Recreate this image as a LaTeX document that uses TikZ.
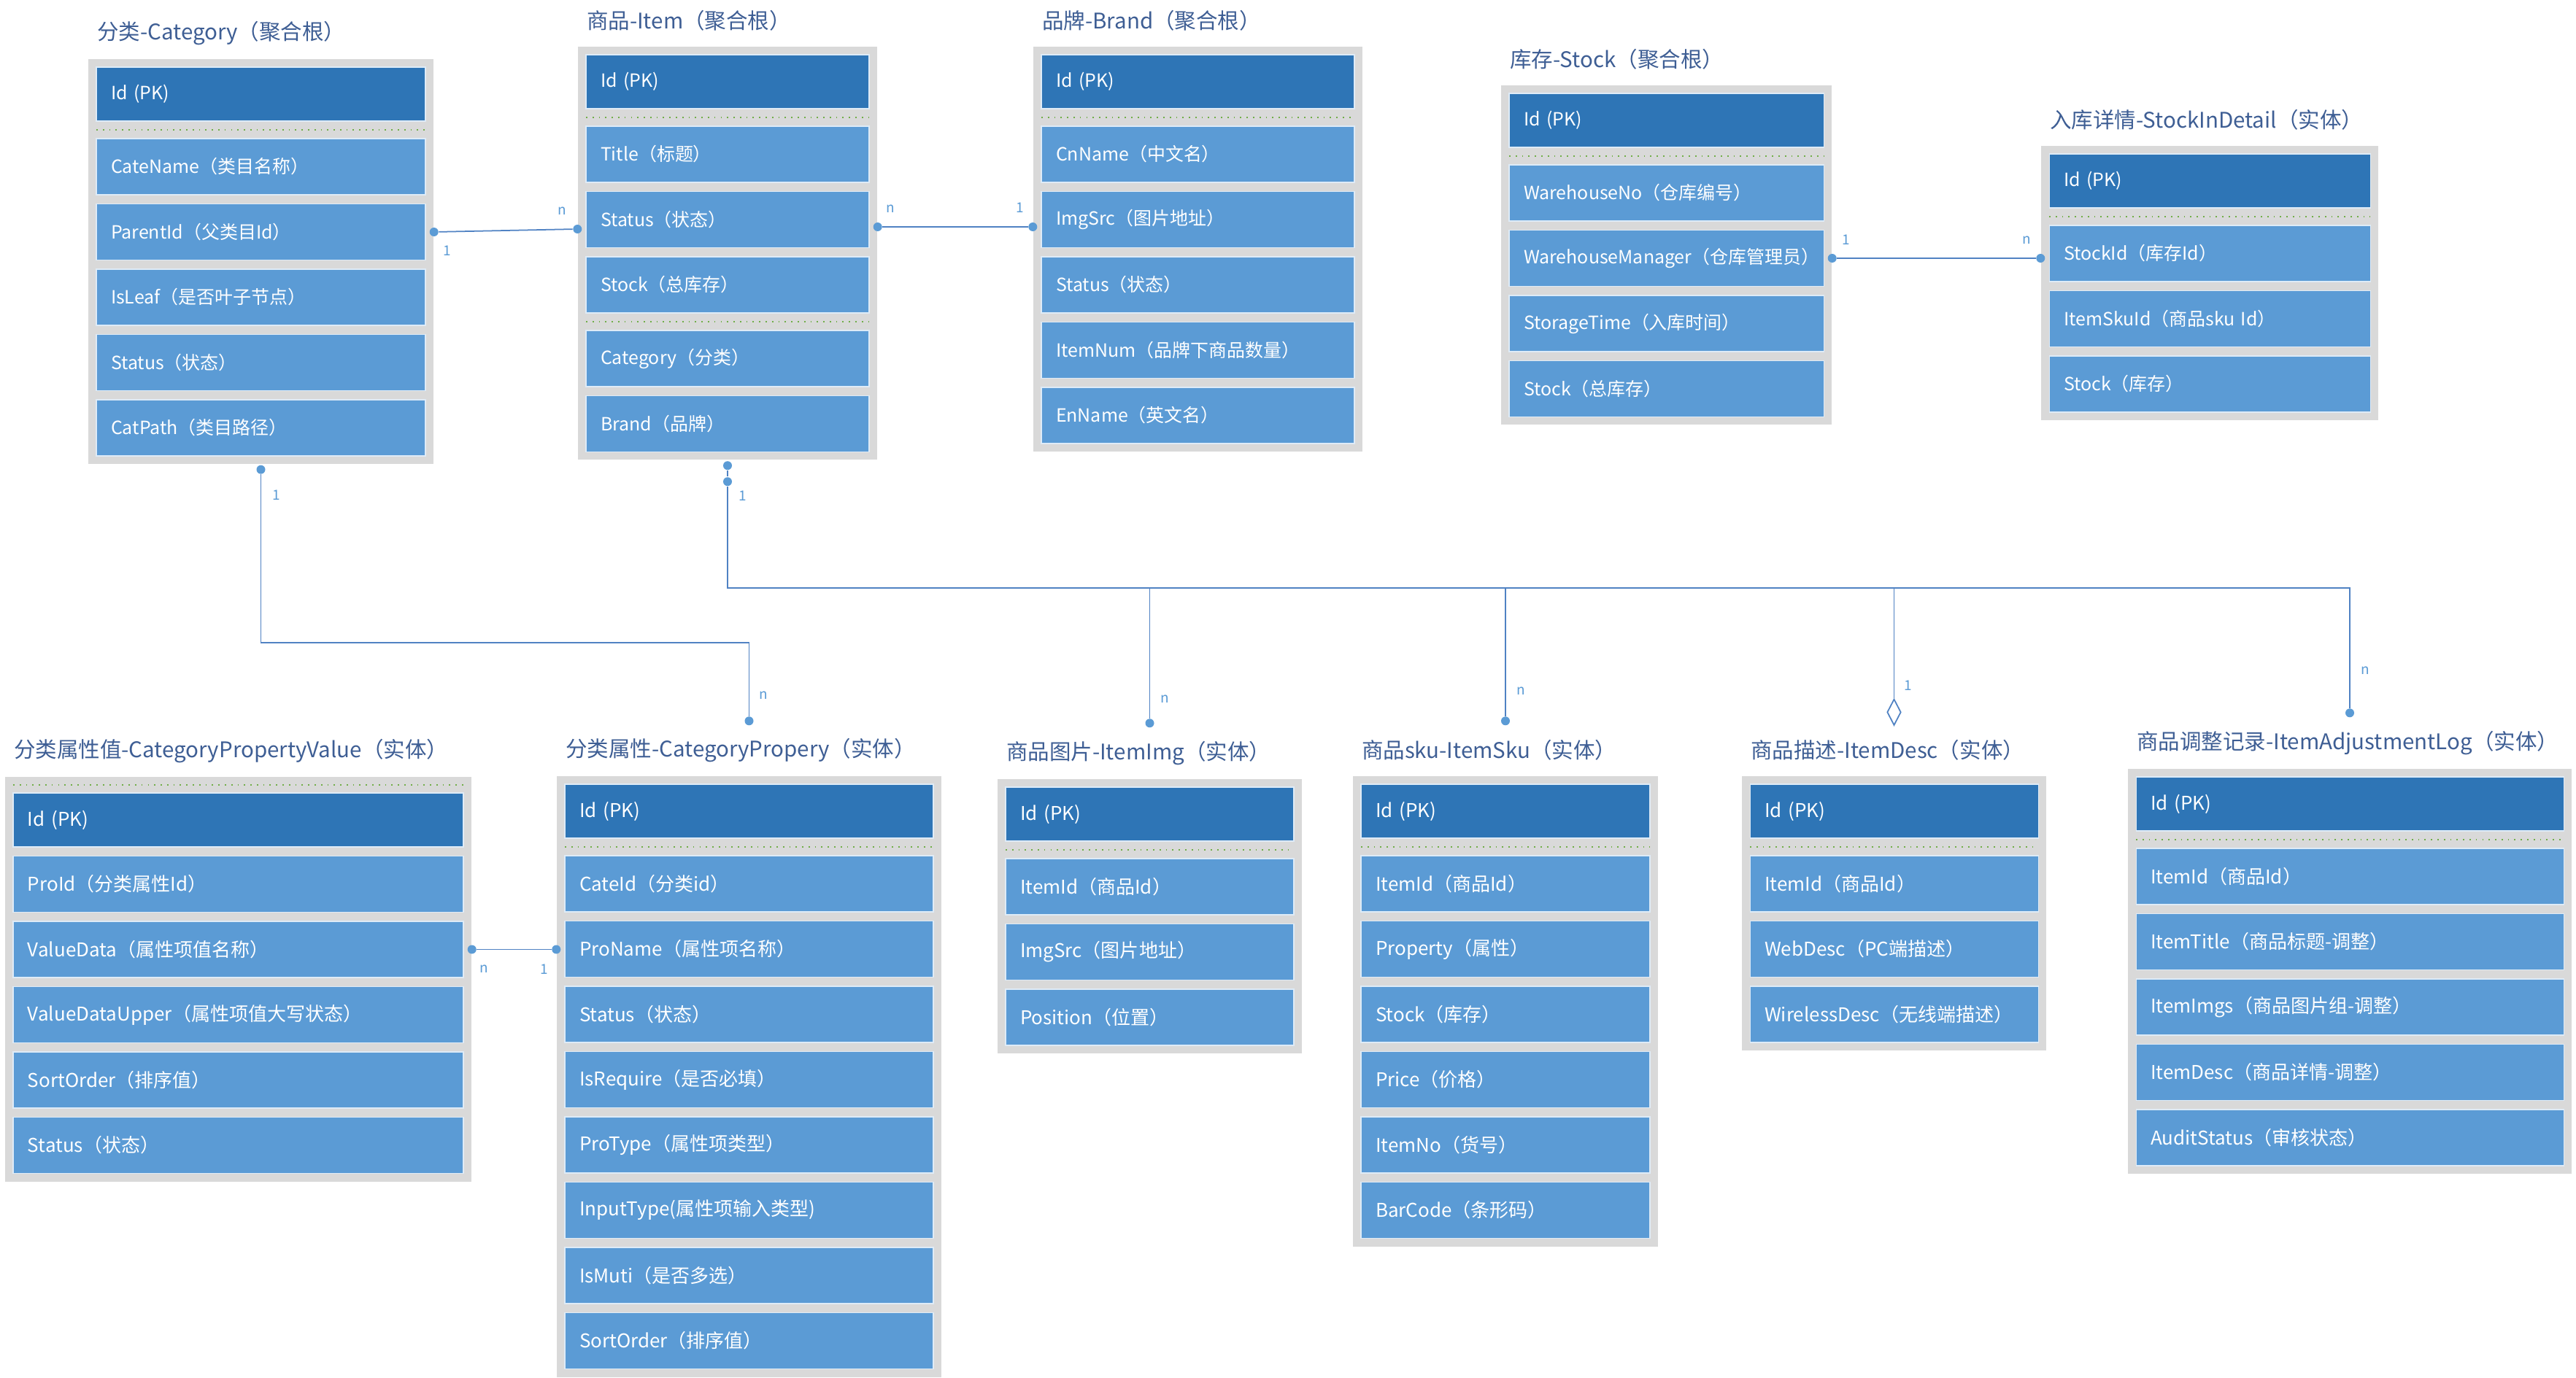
\documentclass[tikz,border=0pt]{standalone}
\usepackage{fontspec}
\setmainfont{Noto Sans CJK SC}
\usepackage{tikz}
\usetikzlibrary{positioning, fit, backgrounds, shapes.geometric}
\definecolor{keyblue}{RGB}{46,117,182}
\definecolor{fieldblue}{RGB}{91,155,213}
\definecolor{fieldline}{RGB}{222,235,247}
\definecolor{boxgray}{RGB}{217,217,217}
\definecolor{sepgreen}{RGB}{112,173,71}
\definecolor{titleblue}{RGB}{62,94,148}
\definecolor{linkblue}{RGB}{80,130,195}
\tikzstyle{attrbox} = [rectangle, minimum height=0.77cm, inner xsep=0.2cm, inner ysep=0pt, outer sep=0pt, align=left, fill=fieldblue, draw=fieldline, line width=0.3pt, text=white, font=\fontsize{7.1}{8}\selectfont]
\tikzstyle{keybox} = [attrbox, minimum height=0.74cm, fill=keyblue]
\tikzstyle{tablebox} = [rectangle, fill=boxgray, inner sep=0.11cm]
\tikzstyle{tabletitle} = [anchor=west, inner sep=0pt, text=titleblue, font=\fontsize{8.4}{10}\selectfont]
\tikzstyle{sepline} = [sepgreen, dotted, line width=0.5pt]
\tikzstyle{link} = [linkblue, line width=0.5pt]
\tikzstyle{enddot} = [circle, fill=fieldblue, inner sep=0pt, minimum size=0.12cm]
\tikzstyle{aggdiamond} = [diamond, draw=linkblue, fill=white, line width=0.5pt, inner sep=0pt, minimum width=0.19cm, minimum height=0.36cm]
\tikzstyle{cardlabel} = [inner sep=0pt, text=fieldblue, font=\fontsize{5.4}{6}\selectfont]

\begin{document}
\begin{tikzpicture}[node distance=0.125cm]
	\useasboundingbox (0,0) rectangle (35.30,-18.89);
	
	% 分类 Category
	\begin{scope}[attrbox/.append style={text width=4.11cm}]
		\node (cat-id) [keybox, anchor=north west] at (1.32,-0.92) {Id (PK)};
		\node (cat-name) [attrbox, below=0.24cm of cat-id] {CateName（类目名称）};
		\node (cat-parent) [attrbox, below=of cat-name] {ParentId（父类目Id）};
		\node (cat-leaf) [attrbox, below=of cat-parent] {IsLeaf（是否叶子节点）};
		\node (cat-status) [attrbox, below=of cat-leaf] {Status（状态）};
		\node (cat-path) [attrbox, below=of cat-status] {CatPath（类目路径）};
	\end{scope}
	
	% 商品 Item
	\begin{scope}[attrbox/.append style={text width=3.48cm}]
		\node (item-id) [keybox, anchor=north west] at (8.03,-0.75) {Id (PK)};
		\node (item-title) [attrbox, below=0.24cm of item-id] {Title（标题）};
		\node (item-status) [attrbox, below=of item-title] {Status（状态）};
		\node (item-stock) [attrbox, below=of item-status] {Stock（总库存）};
		\node (item-cat) [attrbox, below=0.24cm of item-stock] {Category（分类）};
		\node (item-brand) [attrbox, below=of item-cat] {Brand（品牌）};
	\end{scope}
	
	% 品牌 Brand
	\begin{scope}[attrbox/.append style={text width=3.89cm}]
		\node (brand-id) [keybox, anchor=north west] at (14.27,-0.75) {Id (PK)};
		\node (brand-cn) [attrbox, below=0.24cm of brand-id] {CnName（中文名）};
		\node (brand-img) [attrbox, below=of brand-cn] {ImgSrc（图片地址）};
		\node (brand-status) [attrbox, below=of brand-img] {Status（状态）};
		\node (brand-num) [attrbox, below=of brand-status] {ItemNum（品牌下商品数量）};
		\node (brand-en) [attrbox, below=of brand-num] {EnName（英文名）};
	\end{scope}
	
	% 库存 Stock
	\begin{scope}[attrbox/.append style={text width=3.91cm}]
		\node (stock-id) [keybox, anchor=north west] at (20.68,-1.28) {Id (PK)};
		\node (stock-no) [attrbox, below=0.24cm of stock-id] {WarehouseNo（仓库编号）};
		\node (stock-mgr) [attrbox, below=of stock-no] {WarehouseManager（仓库管理员）};
		\node (stock-time) [attrbox, below=of stock-mgr] {StorageTime（入库时间）};
		\node (stock-total) [attrbox, below=of stock-time] {Stock（总库存）};
	\end{scope}
	
	% 入库详情 StockInDetail
	\begin{scope}[attrbox/.append style={text width=4.00cm}]
		\node (sid-id) [keybox, anchor=north west] at (28.08,-2.11) {Id (PK)};
		\node (sid-stock) [attrbox, below=0.24cm of sid-id] {StockId（库存Id）};
		\node (sid-sku) [attrbox, below=of sid-stock] {ItemSkuId（商品sku Id）};
		\node (sid-num) [attrbox, below=of sid-sku] {Stock（库存）};
	\end{scope}
	
	% 分类属性值 CategoryPropertyValue
	\begin{scope}[attrbox/.append style={text width=5.77cm, font=\fontsize{7.4}{9}\selectfont}]
		\node (cpv-id) [keybox, anchor=north west] at (0.18,-10.87) {Id (PK)};
		\node (cpv-pro) [attrbox, below=of cpv-id] {ProId（分类属性Id）};
		\node (cpv-data) [attrbox, below=of cpv-pro] {ValueData（属性项值名称）};
		\node (cpv-upper) [attrbox, below=of cpv-data] {ValueDataUpper（属性项值大写状态）};
		\node (cpv-sort) [attrbox, below=of cpv-upper] {SortOrder（排序值）};
		\node (cpv-status) [attrbox, below=of cpv-sort] {Status（状态）};
	\end{scope}
	\coordinate (cpv-top) at ([yshift=0.11cm]cpv-id.north);
	
	% 分类属性 CategoryPropery
	\begin{scope}[attrbox/.append style={text width=4.65cm, font=\fontsize{7.4}{9}\selectfont}]
		\node (cp-id) [keybox, anchor=north west] at (7.74,-10.75) {Id (PK)};
		\node (cp-cate) [attrbox, below=0.24cm of cp-id] {CateId（分类id）};
		\node (cp-name) [attrbox, below=of cp-cate] {ProName（属性项名称）};
		\node (cp-status) [attrbox, below=of cp-name] {Status（状态）};
		\node (cp-require) [attrbox, below=of cp-status] {IsRequire（是否必填）};
		\node (cp-type) [attrbox, below=of cp-require] {ProType（属性项类型）};
		\node (cp-input) [attrbox, below=of cp-type] {InputType(属性项输入类型)};
		\node (cp-muti) [attrbox, below=of cp-input] {IsMuti（是否多选）};
		\node (cp-sort) [attrbox, below=of cp-muti] {SortOrder（排序值）};
	\end{scope}
	
	% 商品图片 ItemImg
	\begin{scope}[attrbox/.append style={text width=3.55cm, font=\fontsize{7.4}{9}\selectfont}]
		\node (img-id) [keybox, anchor=north west] at (13.78,-10.79) {Id (PK)};
		\node (img-item) [attrbox, below=0.24cm of img-id] {ItemId（商品Id）};
		\node (img-src) [attrbox, below=of img-item] {ImgSrc（图片地址）};
		\node (img-pos) [attrbox, below=of img-src] {Position（位置）};
	\end{scope}
	
	% 商品sku ItemSku
	\begin{scope}[attrbox/.append style={text width=3.56cm, font=\fontsize{7.4}{9}\selectfont}]
		\node (sku-id) [keybox, anchor=north west] at (18.65,-10.75) {Id (PK)};
		\node (sku-item) [attrbox, below=0.24cm of sku-id] {ItemId（商品Id）};
		\node (sku-prop) [attrbox, below=of sku-item] {Property（属性）};
		\node (sku-stock) [attrbox, below=of sku-prop] {Stock（库存）};
		\node (sku-price) [attrbox, below=of sku-stock] {Price（价格）};
		\node (sku-no) [attrbox, below=of sku-price] {ItemNo（货号）};
		\node (sku-bar) [attrbox, below=of sku-no] {BarCode（条形码）};
	\end{scope}
	
	% 商品描述 ItemDesc
	\begin{scope}[attrbox/.append style={text width=3.55cm, font=\fontsize{7.4}{9}\selectfont}]
		\node (desc-id) [keybox, anchor=north west] at (23.98,-10.75) {Id (PK)};
		\node (desc-item) [attrbox, below=0.24cm of desc-id] {ItemId（商品Id）};
		\node (desc-web) [attrbox, below=of desc-item] {WebDesc（PC端描述）};
		\node (desc-wireless) [attrbox, below=of desc-web] {WirelessDesc（无线端描述）};
	\end{scope}
	
	% 商品调整记录 ItemAdjustmentLog
	\begin{scope}[attrbox/.append style={text width=5.46cm, font=\fontsize{7.4}{9}\selectfont}]
		\node (log-id) [keybox, anchor=north west] at (29.27,-10.65) {Id (PK)};
		\node (log-item) [attrbox, below=0.24cm of log-id] {ItemId（商品Id）};
		\node (log-title) [attrbox, below=of log-item] {ItemTitle（商品标题-调整）};
		\node (log-imgs) [attrbox, below=of log-title] {ItemImgs（商品图片组-调整）};
		\node (log-desc) [attrbox, below=of log-imgs] {ItemDesc（商品详情-调整）};
		\node (log-audit) [attrbox, below=of log-desc] {AuditStatus（审核状态）};
	\end{scope}
	
	% gray table frames
	\begin{scope}[on background layer]
		\node (cat) [tablebox, fit=(cat-id)(cat-path)] {};
		\node (item) [tablebox, fit=(item-id)(item-brand)] {};
		\node (brand) [tablebox, fit=(brand-id)(brand-en)] {};
		\node (stock) [tablebox, fit=(stock-id)(stock-total)] {};
		\node (sid) [tablebox, fit=(sid-id)(sid-num)] {};
		\node (cpv) [tablebox, fit=(cpv-top)(cpv-status)] {};
		\node (cp) [tablebox, fit=(cp-id)(cp-sort)] {};
		\node (img) [tablebox, fit=(img-id)(img-pos)] {};
		\node (sku) [tablebox, fit=(sku-id)(sku-bar)] {};
		\node (desc) [tablebox, fit=(desc-id)(desc-wireless)] {};
		\node (log) [tablebox, fit=(log-id)(log-audit)] {};
	\end{scope}
	
	% titles
	\node (cat-head) [tabletitle] at ([shift={(0.12,0.35)}]cat.north west) {分类-Category（聚合根）};
	\node (item-head) [tabletitle] at ([shift={(0.12,0.35)}]item.north west) {商品-Item（聚合根）};
	\node (brand-head) [tabletitle] at ([shift={(0.12,0.35)}]brand.north west) {品牌-Brand（聚合根）};
	\node (stock-head) [tabletitle] at ([shift={(0.12,0.35)}]stock.north west) {库存-Stock（聚合根）};
	\node (sid-head) [tabletitle] at ([shift={(0.12,0.35)}]sid.north west) {入库详情-StockInDetail（实体）};
	\node (cpv-head) [tabletitle] at ([shift={(0.12,0.35)}]cpv.north west) {分类属性值-CategoryPropertyValue（实体）};
	\node (cp-head) [tabletitle] at ([shift={(0.12,0.35)}]cp.north west) {分类属性-CategoryPropery（实体）};
	\node (img-head) [tabletitle] at ([shift={(0.12,0.35)}]img.north west) {商品图片-ItemImg（实体）};
	\node (sku-head) [tabletitle] at ([shift={(0.12,0.35)}]sku.north west) {商品sku-ItemSku（实体）};
	\node (desc-head) [tabletitle] at ([shift={(0.12,0.35)}]desc.north west) {商品描述-ItemDesc（实体）};
	\node (log-head) [tabletitle] at ([shift={(0.12,0.35)}]log.north west) {商品调整记录-ItemAdjustmentLog（实体）};
	
	% separators
	\draw [sepline] ([yshift=-0.12cm]cat-id.south west) -- ([yshift=-0.12cm]cat-id.south east);
	\draw [sepline] ([yshift=-0.12cm]item-id.south west) -- ([yshift=-0.12cm]item-id.south east);
	\draw [sepline] ([yshift=-0.12cm]item-stock.south west) -- ([yshift=-0.12cm]item-stock.south east);
	\draw [sepline] ([yshift=-0.12cm]brand-id.south west) -- ([yshift=-0.12cm]brand-id.south east);
	\draw [sepline] ([yshift=-0.12cm]stock-id.south west) -- ([yshift=-0.12cm]stock-id.south east);
	\draw [sepline] ([yshift=-0.12cm]sid-id.south west) -- ([yshift=-0.12cm]sid-id.south east);
	\draw [sepline] (cpv-top -| cpv-id.west) -- (cpv-top -| cpv-id.east);
	\draw [sepline] ([yshift=-0.12cm]cp-id.south west) -- ([yshift=-0.12cm]cp-id.south east);
	\draw [sepline] ([yshift=-0.12cm]img-id.south west) -- ([yshift=-0.12cm]img-id.south east);
	\draw [sepline] ([yshift=-0.12cm]sku-id.south west) -- ([yshift=-0.12cm]sku-id.south east);
	\draw [sepline] ([yshift=-0.12cm]desc-id.south west) -- ([yshift=-0.12cm]desc-id.south east);
	\draw [sepline] ([yshift=-0.12cm]log-id.south west) -- ([yshift=-0.12cm]log-id.south east);
	
	% Category - Item
	\node (d-cat-item) [enddot] at (cat.east |- cat-parent) {};
	\node (d-item-cat) [enddot] at ([yshift=0.04cm]item.west |- cat-parent) {};
	\draw [link] (d-cat-item) -- (d-item-cat);
	\node (c-cat-item) [cardlabel] at ([shift={(0.18,-0.26)}]d-cat-item) {1};
	\node (c-item-cat) [cardlabel] at ([shift={(-0.21,0.25)}]d-item-cat) {n};
	
	% Item - Brand
	\node (d-item-brand) [enddot] at ([yshift=-0.1cm]item.east |- item-status) {};
	\node (d-brand-item) [enddot] at ([yshift=-0.1cm]brand.west |- item-status) {};
	\draw [link] (d-item-brand) -- (d-brand-item);
	\node (c-item-brand) [cardlabel] at ([shift={(0.18,0.25)}]d-item-brand) {n};
	\node (c-brand-item) [cardlabel] at ([shift={(-0.18,0.26)}]d-brand-item) {1};
	
	% Stock - StockInDetail
	\node (d-stock-sid) [enddot] at (stock.east |- stock-mgr) {};
	\node (d-sid-stock) [enddot] at (sid.west |- stock-mgr) {};
	\draw [link] (d-stock-sid) -- (d-sid-stock);
	\node (c-stock-sid) [cardlabel] at ([shift={(0.19,0.25)}]d-stock-sid) {1};
	\node (c-sid-stock) [cardlabel] at ([shift={(-0.19,0.25)}]d-sid-stock) {n};
	
	% CategoryPropertyValue - CategoryPropery
	\node (d-cpv-cp) [enddot] at (cpv.east |- cpv-data) {};
	\node (d-cp-cpv) [enddot] at (cp.west |- cpv-data) {};
	\draw [link] (d-cpv-cp) -- (d-cp-cpv);
	\node (c-cpv-cp) [cardlabel] at ([shift={(0.17,-0.27)}]d-cpv-cp) {n};
	\node (c-cp-cpv) [cardlabel] at ([shift={(-0.17,-0.27)}]d-cp-cpv) {1};
	
	% Category - CategoryPropery
	\coordinate (cat-bend) at (0,-8.81);
	\node (d-cat-cp) [enddot] at ([yshift=-0.07cm]cat.south) {};
	\node (d-cp-cat) [enddot] at ([yshift=0.75cm]cp.north) {};
	\draw [link] (d-cat-cp) -- (d-cat-cp |- cat-bend) -| (d-cp-cat);
	\node (c-cat-cp) [cardlabel] at ([shift={(0.21,-0.35)}]d-cat-cp) {1};
	\node (c-cp-cat) [cardlabel] at ([shift={(0.20,0.35)}]d-cp-cat) {n};
	
	% Item - ItemImg / ItemSku / ItemDesc / ItemAdjustmentLog
	\coordinate (item-bus) at (0,-8.06);
	\node (d-item-a) [enddot] at ([yshift=-0.07cm]item.south) {};
	\node (d-item-b) [enddot] at ([yshift=-0.29cm]item.south) {};
	\node (d-img-item) [enddot] at ([yshift=0.76cm]img.north) {};
	\node (d-sku-item) [enddot] at ([yshift=0.75cm]sku.north) {};
	\node (d-desc-item) [aggdiamond] at ([yshift=0.87cm]desc.north) {};
	\node (d-log-item) [enddot] at ([yshift=0.76cm]log.north) {};
	\draw [link] (d-item-a) -- (d-item-b) -- (d-item-b |- item-bus) -- (d-log-item |- item-bus) -- (d-log-item);
	\draw [link] (d-img-item |- item-bus) -- (d-img-item);
	\draw [link] (d-sku-item |- item-bus) -- (d-sku-item);
	\draw [link] (d-desc-item |- item-bus) -- (d-desc-item.north);
	\node (c-item-sub) [cardlabel] at ([shift={(0.21,-0.20)}]d-item-b) {1};
	\node (c-img-item) [cardlabel] at ([shift={(0.21,0.33)}]d-img-item) {n};
	\node (c-sku-item) [cardlabel] at ([shift={(0.21,0.41)}]d-sku-item) {n};
	\node (c-desc-item) [cardlabel] at ([shift={(0.19,0.37)}]d-desc-item) {1};
	\node (c-log-item) [cardlabel] at ([shift={(0.21,0.58)}]d-log-item) {n};
	
\end{tikzpicture}
\end{document}
